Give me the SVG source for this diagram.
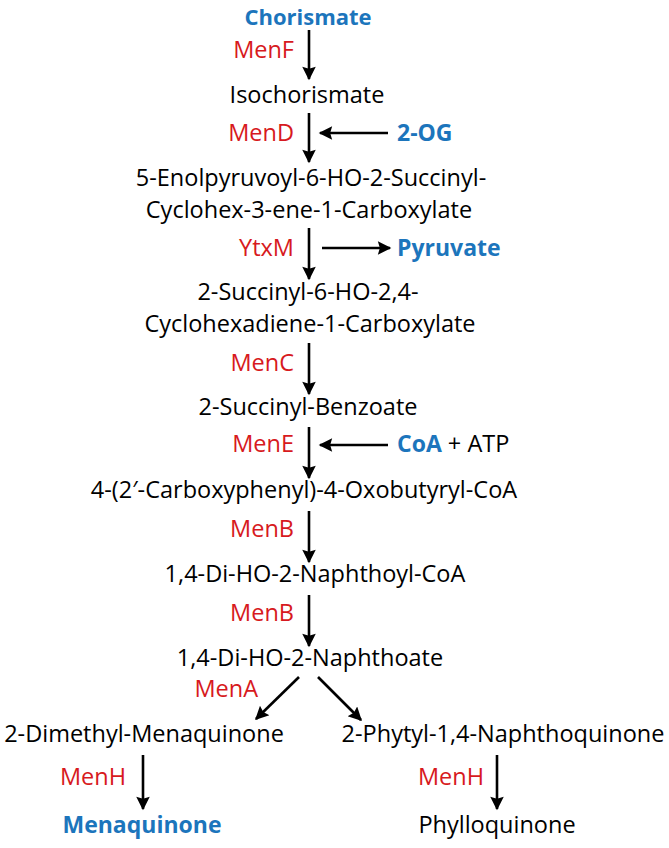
<svg xmlns="http://www.w3.org/2000/svg" width="669" height="848" viewBox="0 0 669 848">
<defs>
<marker id="ah" viewBox="0 0 10 10" refX="9" refY="5" markerWidth="7" markerHeight="5.2" markerUnits="strokeWidth" orient="auto">
<path d="M0,0 L10,5 L0,10 L1.5,5 Z" fill="#000"/>
</marker>
<style>
text{font-family:"Open Sans","Noto Sans",sans-serif;font-size:23.5px;fill:#000}
.c{text-anchor:middle}
.e{fill:#d71920;text-anchor:end}
.b{fill:#1c75bc;font-weight:bold;font-size:23px}
.ln{stroke:#000;stroke-width:2.6;fill:none;marker-end:url(#ah)}
</style>
</defs>
<g id="connectors">
<line class="ln" x1="309" y1="30" x2="309" y2="79"/>
<line class="ln" x1="309" y1="113" x2="309" y2="162"/>
<line class="ln" x1="388" y1="133" x2="320" y2="133"/>
<line class="ln" x1="309" y1="228" x2="309" y2="279"/>
<line class="ln" x1="322" y1="248" x2="390" y2="248"/>
<line class="ln" x1="309" y1="343" x2="309" y2="394"/>
<line class="ln" x1="309" y1="427" x2="309" y2="478"/>
<line class="ln" x1="388" y1="445" x2="320" y2="445"/>
<line class="ln" x1="309" y1="511" x2="309" y2="562"/>
<line class="ln" x1="309" y1="595" x2="309" y2="646"/>
<line class="ln" x1="299" y1="677" x2="256" y2="719"/>
<line class="ln" x1="318" y1="677" x2="361" y2="720"/>
<line class="ln" x1="143" y1="755" x2="143" y2="809"/>
<line class="ln" x1="497" y1="755" x2="497" y2="809"/>
</g>
<g id="chorismate"><text class="c b" x="308" y="25" style="font-size:22px">Chorismate</text></g>
<g id="menF"><text class="e" x="294" y="58">MenF</text></g>
<g id="isochorismate"><text class="c" x="307" y="103">Isochorismate</text></g>
<g id="menD"><text class="e" x="294" y="141">MenD</text></g>
<g id="og"><text class="b" x="397" y="141">2-OG</text></g>
<g id="sephchc"><text class="c" x="311" y="186">5-Enolpyruvoyl-6-HO-2-Succinyl-</text><text class="c" x="309" y="218">Cyclohex-3-ene-1-Carboxylate</text></g>
<g id="ytxM"><text class="e" x="294" y="256">YtxM</text></g>
<g id="pyruvate"><text class="b" x="397" y="256">Pyruvate</text></g>
<g id="shchc"><text class="c" x="308" y="300">2-Succinyl-6-HO-2,4-</text><text class="c" x="310" y="332">Cyclohexadiene-1-Carboxylate</text></g>
<g id="menC"><text class="e" x="294" y="371">MenC</text></g>
<g id="osb"><text class="c" x="308" y="415">2-Succinyl-Benzoate</text></g>
<g id="menE"><text class="e" x="294" y="452">MenE</text></g>
<g id="coa"><text x="397" y="452"><tspan class="b">CoA</tspan> + ATP</text></g>
<g id="osbcoa"><text class="c" x="304" y="498">4-(2′-Carboxyphenyl)-4-Oxobutyryl-CoA</text></g>
<g id="menB1"><text class="e" x="294" y="537">MenB</text></g>
<g id="dhnacoa"><text class="c" x="315" y="582">1,4-Di-HO-2-Naphthoyl-CoA</text></g>
<g id="menB2"><text class="e" x="294" y="621">MenB</text></g>
<g id="dhna"><text class="c" x="310" y="666">1,4-Di-HO-2-Naphthoate</text></g>
<g id="menA"><text class="e" x="258" y="697">MenA</text></g>
<g id="dmk"><text class="c" x="144" y="742">2-Dimethyl-Menaquinone</text></g>
<g id="pnq"><text class="c" x="503" y="742">2-Phytyl-1,4-Naphthoquinone</text></g>
<g id="menH1"><text class="e" x="126" y="785">MenH</text></g>
<g id="menH2"><text class="e" x="484" y="785">MenH</text></g>
<g id="menaquinone"><text class="c b" x="142" y="833">Menaquinone</text></g>
<g id="phylloquinone"><text class="c" x="497" y="833">Phylloquinone</text></g>
</svg>
